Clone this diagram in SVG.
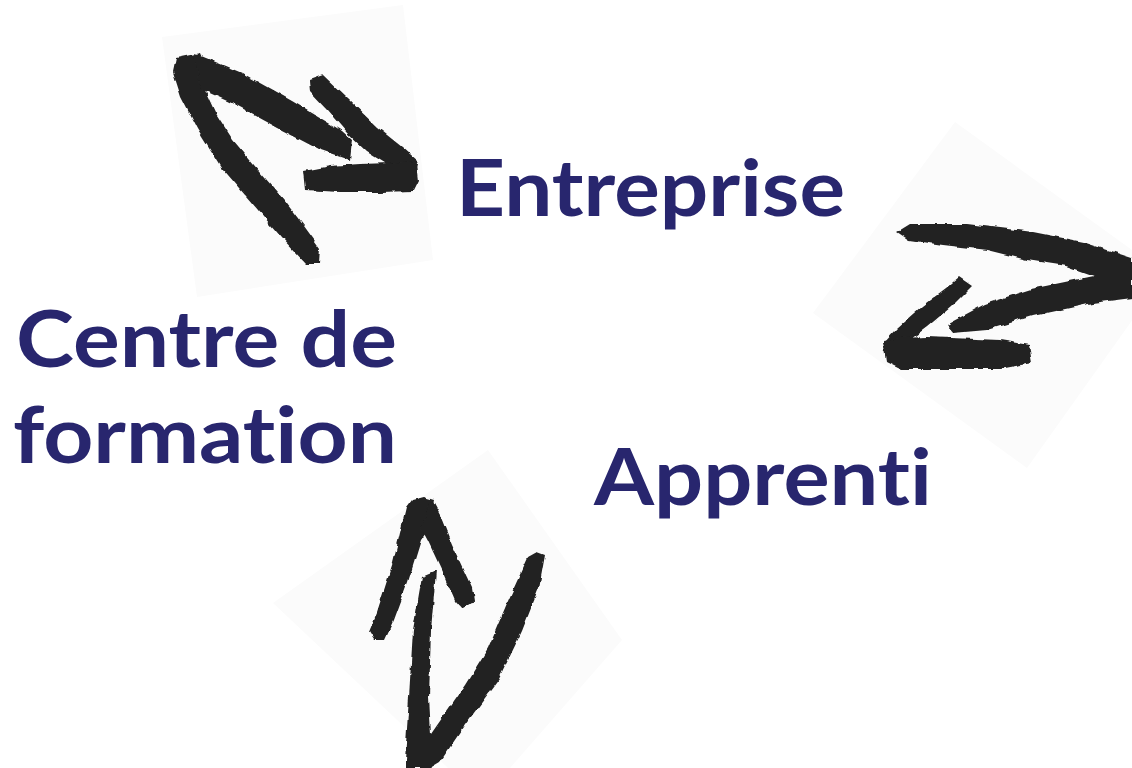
<svg xmlns="http://www.w3.org/2000/svg" width="1132" height="768" viewBox="0 0 1132 768">
  <style>
    .label { font-family: "Lato", "Liberation Sans", sans-serif; font-weight: 700; font-size: 78px; fill: #28266e; font-variant-ligatures: none; font-feature-settings: "liga" 0, "clig" 0; }
    .pad { fill: #fbfbfb; }
    .ink { fill: #222222; filter: url(#rough); }
  </style>
  <defs>
    <filter id="rough" x="-10%" y="-10%" width="120%" height="120%">
      <feTurbulence type="fractalNoise" baseFrequency="0.09" numOctaves="2" seed="4" result="n"/>
      <feDisplacementMap in="SourceGraphic" in2="n" scale="5" xChannelSelector="R" yChannelSelector="G"/>
    </filter>
  </defs>
  <rect width="1132" height="768" fill="#ffffff"/>

  <g id="connectors">
    <g id="arrow-centre-entreprise">
      <polygon class="pad" points="162,37 403,5 433,260 197,297"/>
      <polygon class="ink" points="176,58 200,53 207,70 203,86 215,112 233,140 254,165 284,200 304,226 320,248 319,264 306,264 282,238 252,203 222,168 197,128 181,97 173,72"/>
      <polygon class="ink" points="194,53 242,73 292,101 342,131 352,140 350,160 318,149 278,128 238,106 201,89"/>
      <polygon class="ink" points="309,80 323,75 347,98 377,127 402,147 418,161 412,175 393,168 367,152 347,133 327,110 310,92"/>
      <polygon class="ink" points="304,171 330,166 360,164 390,163 416,162 418,181 413,191 380,192 340,192 306,190"/>
    </g>
    <g id="arrow-entreprise-apprenti">
      <polygon class="pad" points="955,122 1165,274 1027,468 813,313"/>
      <polygon class="ink" points="897,232 910,224 967,224 1033,232 1083,242 1132,258 1132,298 1093,303 1033,316 987,330 953,333 946,325 985,304 1031,289 1094,276 1066,266 1027,260 987,250 943,245 909,240"/>
      <polygon class="ink" points="959,277 972,286 952,306 927,327 907,342 894,352 884,352 882,344 897,328 922,306 946,288"/>
      <polygon class="ink" points="883,341 900,338 927,337 1000,340 1029,345 1032,363 1000,369 950,369 900,369 886,362"/>
    </g>
    <g id="arrow-centre-apprenti">
      <polygon class="pad" points="488,450 622,640 482,800 273,603"/>
      <polygon class="ink" points="406,508 412,500 424,497 434,500 428,530 421,540 408,582 394,620 385,640 374,640 369,632 377,612 393,562"/>
      <polygon class="ink" points="432,500 440,515 452,545 472,588 474,601 462,609 455,601 443,573 428,541 421,528"/>
      <polygon class="ink" points="422,577 436,571 431,630 429,697 431,734 465,685 488,648 508,601 528,557 537,552 545,555 539,588 522,631 499,679 465,725 440,762 430,768 405,768 405,760 409,697 413,630"/>
    </g>
  </g>

  <g id="node-entreprise">
    <text class="label" x="456" y="216" textLength="389" lengthAdjust="spacingAndGlyphs">Entreprise</text>
  </g>
  <g id="node-centre">
    <text class="label" x="16" y="367" textLength="381" lengthAdjust="spacingAndGlyphs">Centre de</text>
    <text class="label" x="13" y="463" textLength="384" lengthAdjust="spacingAndGlyphs">formation</text>
  </g>
  <g id="node-apprenti">
    <text class="label" x="594" y="505" textLength="338" lengthAdjust="spacingAndGlyphs">Apprenti</text>
  </g>
</svg>
